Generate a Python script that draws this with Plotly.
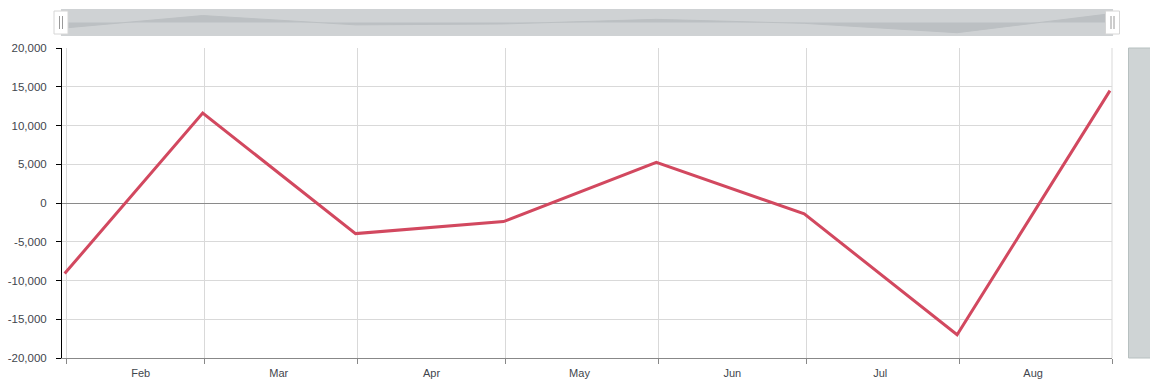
import plotly.graph_objects as go

# ---- data ----
dates = ["2019-01-31 14:00", "2019-02-28 14:00", "2019-03-31 14:00", "2019-04-30 14:00",
         "2019-05-31 14:00", "2019-06-30 14:00", "2019-07-31 14:00", "2019-08-31 14:00"]
values = [-9100, 11600, -3950, -2400, 5250, -1400, -17000, 14500]
x_range = ["2019-01-31 01:00", "2019-09-01 00:00"]
x_label_dates = ["2019-02-16", "2019-03-16", "2019-04-16", "2019-05-16",
                 "2019-06-16", "2019-07-16", "2019-08-16"]
x_labels = ["Feb", "Mar", "Apr", "May", "Jun", "Jul", "Aug"]
y_ticks = [-20000, -15000, -10000, -5000, 0, 5000, 10000, 15000, 20000]
y_labels = [f"{v:,}" for v in y_ticks]

LINE = "#d2485f"
GRID = "#d9d9d9"
TXT = "#3f464d"
FONT = "Liberation Sans, Arial, sans-serif"

fig = go.Figure()

# main series
fig.add_trace(go.Scatter(x=dates, y=values, mode="lines",
                         line=dict(color=LINE, width=3), xaxis="x", yaxis="y",
                         hoverinfo="x+y", showlegend=False))

# scrollbar preview series
fig.add_trace(go.Scatter(x=dates, y=values, mode="lines", fill="tozeroy",
                         fillcolor="#bcc0c3", line=dict(color="#bcc0c3", width=1),
                         xaxis="x2", yaxis="y2", hoverinfo="skip", showlegend=False))

H = 381
top_px, bot_px = 9, 358
span = bot_px - top_px
main_top = (bot_px - 48) / span
sb_bot = (bot_px - 36) / span

fig.update_layout(
    template="none",
    width=1150, height=H,
    margin=dict(l=62, r=38, t=top_px, b=H - bot_px, pad=0),
    paper_bgcolor="white", plot_bgcolor="white",
    font=dict(family=FONT, size=11, color=TXT),
    xaxis=dict(type="date", range=x_range, domain=[0, 1], anchor="y", automargin=False,
               tickmode="array", tickvals=x_label_dates, ticktext=x_labels,
               showgrid=False, ticks="", ticklen=0, ticklabelstandoff=5,
               minor=dict(dtick="M1", tick0="2019-02-01", showgrid=True, gridcolor=GRID,
                          gridwidth=1, ticks="outside", ticklen=5, tickcolor="#888888"),
               showline=True, linecolor="#888888", linewidth=1,
               tickfont=dict(size=11, color=TXT), zeroline=False, fixedrange=True),
    yaxis=dict(range=[-20000, 20000], domain=[0, main_top], anchor="x", automargin=False,
               tickmode="array", tickvals=y_ticks, ticktext=y_labels,
               showgrid=True, gridcolor=GRID,
               ticks="outside", ticklen=5, tickcolor="#000000", ticklabelstandoff=7,
               showline=True, linecolor="#000000", linewidth=1,
               zeroline=True, zerolinecolor="#8a8a8a", zerolinewidth=1,
               tickfont=dict(size=11.5, color=TXT), fixedrange=True),
    xaxis2=dict(type="date", range=x_range, domain=[0, 1], anchor="y2", automargin=False,
                visible=False, showgrid=False, fixedrange=True),
    yaxis2=dict(range=[-22500, 22500], domain=[sb_bot, 1], anchor="x2", automargin=False,
                visible=False, showgrid=False, zeroline=False, fixedrange=True),
)

shapes = []
# scrollbar background
shapes.append(dict(type="rect", xref="x2 domain", yref="y2 domain",
                   x0=-0.001, x1=1.001, y0=0, y1=1, fillcolor="#cfd2d4",
                   line=dict(width=0), layer="below"))
# right border grid line
shapes.append(dict(type="line", xref="x domain", yref="y domain", x0=1, x1=1, y0=0, y1=1,
                   line=dict(color=GRID, width=1)))
# grips
W = 1050.0
for cx_px in (61.0, 1112.5):
    x0 = (cx_px - 7 - 62) / W
    x1 = (cx_px + 7 - 62) / W
    shapes.append(dict(type="rect", xref="x2 domain", yref="y2 domain",
                       x0=x0, x1=x1, y0=2 / 27, y1=25 / 27,
                       fillcolor="white", line=dict(color="#d6d6d6", width=1)))
    for dx in (-1.5, 1.5):
        xl = (cx_px + dx - 62) / W
        shapes.append(dict(type="line", xref="x2 domain", yref="y2 domain",
                           x0=xl, x1=xl, y0=7 / 27, y1=20 / 27,
                           line=dict(color="#9a9a9a", width=1)))
# vertical scrollbar on the right
shapes.append(dict(type="rect", xref="paper", yref="y domain",
                   x0=(1128.5 - 62) / W, x1=(1152 - 62) / W, y0=0, y1=1,
                   fillcolor="#cfd4d5", line=dict(color="#b7c0c0", width=1)))
fig.update_layout(shapes=shapes)

fig.write_html("out.html")
